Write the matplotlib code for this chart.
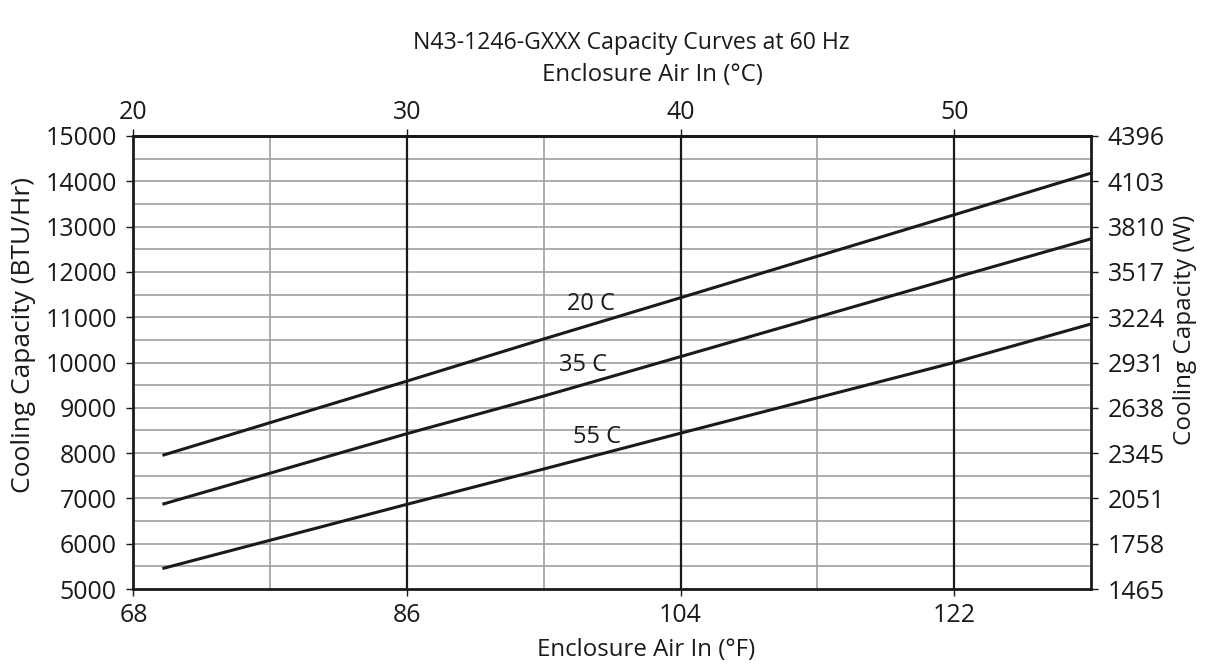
import matplotlib
matplotlib.use("Agg")
import matplotlib.pyplot as plt
import numpy as np
from matplotlib.ticker import FixedLocator

# enclosure air temperature (deg F) where the curves were read
temp_f = [70, 86, 95, 104, 122, 131]

# cooling capacity (BTU/Hr) for each ambient temperature
cap_20c = [7960, 9590, 10520, 11430, 13260, 14180]
cap_35c = [6880, 8430, 9260, 10130, 11870, 12730]
cap_55c = [5460, 6870, 7650, 8440, 10000, 10850]

curve_labels = ["20 C", "35 C", "55 C"]
label_pos = [(98.1, 11290), (97.6, 9940), (98.5, 8360)]

x_ticks = [68, 86, 104, 122]
c_ticks = [20, 30, 40, 50]
y_ticks = [5000, 6000, 7000, 8000, 9000, 10000, 11000, 12000, 13000, 14000, 15000]
w_labels = ["1465", "1758", "2051", "2345", "2638", "2931",
            "3224", "3517", "3810", "4103", "4396"]

plt.rcParams["font.family"] = ["Open Sans", "DejaVu Sans"]
ink = "#1a1a1a"
tick_fs = 18

fig = plt.figure(figsize=(12.08, 6.66), dpi=100)
ax = fig.add_axes([0.1105, 0.1156, 0.7926, 0.6802])

ax.set_xlim(68, 131)
ax.set_ylim(5000, 15000)

# grid: horizontal every 500, minor verticals gray, major verticals black
for y in np.arange(5500, 15000, 500):
    ax.axhline(y, color="#a0a0a0", lw=1.2, zorder=1)
for x in [77, 95, 113]:
    ax.axvline(x, color="#a0a0a0", lw=1.2, zorder=1)
for x in [86, 104, 122]:
    ax.axvline(x, color=ink, lw=1.6, zorder=1)

for cap in [cap_20c, cap_35c, cap_55c]:
    ax.plot(temp_f, cap, color=ink, lw=2.2, zorder=3)

for lab, (lx, ly) in zip(curve_labels, label_pos):
    ax.text(lx, ly, lab, ha="center", va="center", fontsize=17, color=ink, zorder=4)

ax.xaxis.set_major_locator(FixedLocator(x_ticks))
ax.yaxis.set_major_locator(FixedLocator(y_ticks))
ax.tick_params(direction="out", length=5, width=1, pad=7, colors=ink,
               labelcolor=ink, labelsize=tick_fs)
ax.tick_params(axis="x", pad=5)
for sp in ax.spines.values():
    sp.set_linewidth(2)
    sp.set_color(ink)

# top axis in Celsius
top = ax.secondary_xaxis("top", functions=(lambda f: (f - 32) * 5 / 9,
                                             lambda c: c * 9 / 5 + 32))
top.xaxis.set_major_locator(FixedLocator(c_ticks))
top.tick_params(direction="out", length=5, width=1, pad=3, colors=ink,
                labelcolor=ink, labelsize=tick_fs)
top.spines["top"].set_linewidth(2)

# right axis in watts
right = ax.twinx()
right.set_ylim(ax.get_ylim())
right.set_yticks(y_ticks)
right.set_yticklabels(w_labels)
right.tick_params(direction="out", length=5, width=1, pad=7, colors=ink,
                  labelcolor=ink, labelsize=tick_fs)
for sp in right.spines.values():
    sp.set_visible(False)

# axis titles placed by hand to follow the original layout
fig.text(646 / 1208, 1 - 650 / 666, "Enclosure Air In (°F)", ha="center",
         va="center", fontsize=17.3, color=ink)
fig.text(24 / 1208, 1 - 335 / 666, "Cooling Capacity (BTU/Hr)", rotation=90,
         ha="center", va="center", fontsize=19, color=ink)
fig.text(1185 / 1208, 1 - 330 / 666, "Cooling Capacity (W)", rotation=90,
         ha="center", va="center", fontsize=17.5, color=ink)
fig.text(631 / 1208, 1 - 43 / 666, "N43-1246-GXXX Capacity Curves at 60 Hz",
         ha="center", va="center", fontsize=16.6, color=ink)
fig.text(652 / 1208, 1 - 75 / 666, "Enclosure Air In (°C)", ha="center",
         va="center", fontsize=17.3, color=ink)

fig.savefig("out.png", dpi=100)
